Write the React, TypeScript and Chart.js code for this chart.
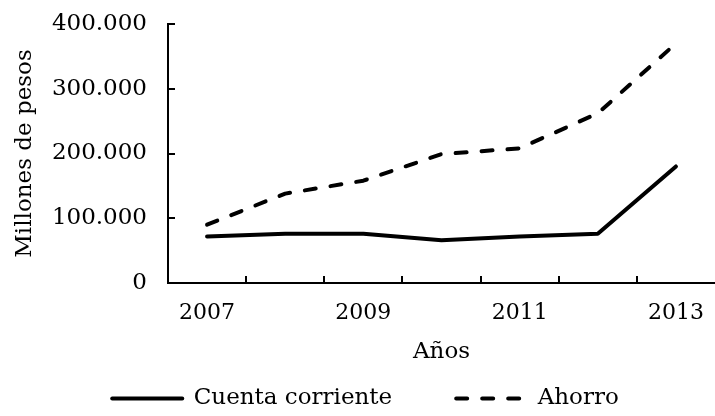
import React, { useEffect, useRef } from 'react';
import { Chart, registerables } from 'chart.js';

Chart.register(...registerables);

// ---- Data ----
const years = ['2007', '2008', '2009', '2010', '2011', '2012', '2013'];
const xTickLabels = ['2007', '', '2009', '', '2011', '', '2013'];
const cuentaCorriente = [72000, 76000, 76000, 66000, 72000, 76000, 180000];
const ahorro = [90000, 138000, 158000, 199000, 208000, 262000, 370000];
const yMin = 0;
const yMax = 400000;
const yStep = 100000;

const FONT = '"DejaVu Serif", "Liberation Serif", serif';

const formatThousands = (v: number) =>
  String(v).replace(/\B(?=(\d{3})+(?!\d))/g, '.');

const inwardTicks = {
  id: 'inwardTicks',
  afterDatasetsDraw(chart: any) {
    const { ctx, chartArea, scales } = chart;
    const x = scales.x;
    const y = scales.y;
    ctx.save();
    ctx.strokeStyle = '#000';
    ctx.lineWidth = 2;
    ctx.beginPath();
    y.ticks.forEach((t: any) => {
      const py = Math.round(y.getPixelForValue(t.value));
      ctx.moveTo(chartArea.left, py);
      ctx.lineTo(chartArea.left + 7, py);
    });
    for (let i = 0; i < years.length - 1; i++) {
      const px = Math.round((x.getPixelForValue(i) + x.getPixelForValue(i + 1)) / 2);
      ctx.moveTo(px, chartArea.bottom);
      ctx.lineTo(px, chartArea.bottom - 7);
    }
    ctx.stroke();
    ctx.restore();
  },
};

export default function App() {
  const canvasRef = useRef<HTMLCanvasElement | null>(null);

  useEffect(() => {
    if (!canvasRef.current) return;
    const chart = new Chart(canvasRef.current, {
      type: 'line',
      data: {
        labels: years,
        datasets: [
          {
            label: 'Cuenta corriente',
            data: cuentaCorriente,
            borderColor: '#000',
            backgroundColor: '#000',
            borderWidth: 4,
            borderCapStyle: 'round',
            borderJoinStyle: 'round',
            pointRadius: 0,
            tension: 0,
            fill: false,
          },
          {
            label: 'Ahorro',
            data: ahorro,
            borderColor: '#000',
            backgroundColor: '#000',
            borderWidth: 4,
            borderCapStyle: 'round',
            borderJoinStyle: 'round',
            borderDash: [11, 15],
            pointRadius: 0,
            tension: 0,
            fill: false,
          },
        ],
      },
      options: {
        animation: false,
        responsive: true,
        maintainAspectRatio: false,
        layout: { padding: { left: 14, right: -2, top: 24, bottom: -4 } },
        plugins: {
          tooltip: { enabled: false },
          legend: {
            position: 'bottom',
            labels: {
              color: '#000',
              font: { family: FONT, size: 23 },
              usePointStyle: true,
              pointStyle: 'line',
              pointStyleWidth: 70,
              padding: 64,
              generateLabels: (chart: any) => {
                const items = Chart.defaults.plugins.legend.labels.generateLabels(chart);
                return items.map((it: any) => {
                  const ds = chart.data.datasets[it.datasetIndex];
                  return {
                    ...it,
                    lineDash: ds.borderDash || [],
                    lineCap: ds.borderCapStyle || 'butt',
                    lineWidth: 4,
                    strokeStyle: '#000',
                    fontColor: '#000',
                  };
                });
              },
            },
          },
        },
        scales: {
          x: {
            type: 'category',
            offset: true,
            grid: { display: false, drawTicks: false, offset: true },
            border: { display: true, color: '#000', width: 2 },
            ticks: {
              color: '#000',
              font: { family: FONT, size: 22, lineHeight: 1 },
              padding: 19,
              autoSkip: false,
              maxRotation: 0,
              callback: (_v: any, i: number) => xTickLabels[i],
            },
            title: {
              display: true,
              text: 'Años',
              color: '#000',
              font: { family: FONT, size: 23 },
              padding: { top: 0, bottom: -43 },
            },
            afterFit: (scale: any) => {
              scale.height = 40;
              scale.paddingLeft = 0;
              scale.paddingRight = 0;
            },
          },
          y: {
            min: yMin,
            max: yMax,
            grid: { display: false, drawTicks: false },
            border: { display: true, color: '#000', width: 2 },
            ticks: {
              stepSize: yStep,
              color: '#000',
              font: { family: FONT, size: 23 },
              padding: 21,
              callback: (v: any) => formatThousands(Number(v)),
            },
            title: {
              display: true,
              text: 'Millones de pesos',
              color: '#000',
              font: { family: FONT, size: 23 },
              padding: { top: -3, bottom: 0 },
            },
            afterFit: (scale: any) => {
              scale.width = 154;
              scale.paddingTop = 0;
              scale.paddingBottom = 0;
            },
          },
        },
      },
      plugins: [inwardTicks],
    });
    return () => chart.destroy();
  }, []);

  return (
    <div style={{ position: 'fixed', left: 0, top: 0, width: 715, height: 416, background: '#fff' }}>
      <canvas ref={canvasRef} />
    </div>
  );
}
